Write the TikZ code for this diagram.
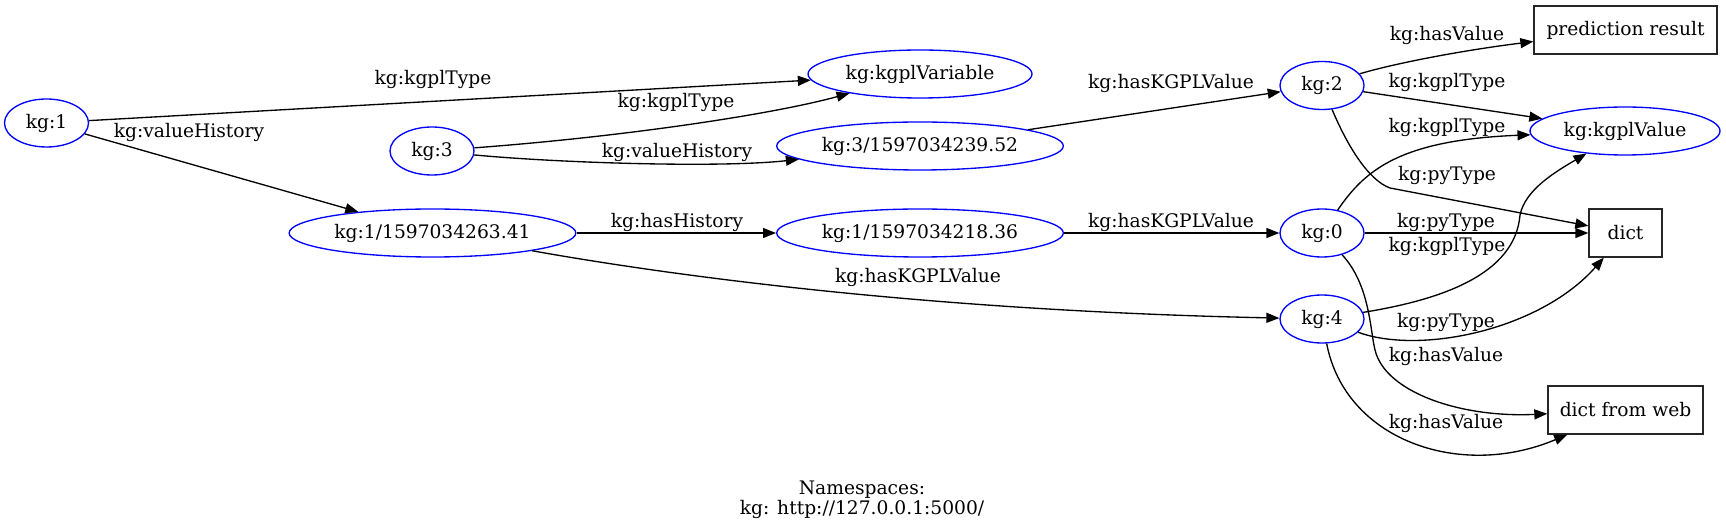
\documentclass[tikz,border=0pt]{standalone}
\usepackage{fontspec}
\setmainfont{DejaVu Serif}
\usetikzlibrary{shapes.geometric, arrows.meta, backgrounds}
\tikzset{uriNode/.style={shape=ellipse, draw=blue, line width=1pt, minimum height=36pt, inner sep=0pt, font=\fontsize{14pt}{16pt}\selectfont}}
\tikzset{literalNode/.style={shape=rectangle, draw=black!85, line width=1pt, minimum height=36pt, inner sep=0pt, font=\fontsize{14pt}{16pt}\selectfont}}
\tikzset{edgeLabel/.style={inner sep=0pt, font=\fontsize{14pt}{16pt}\selectfont}}
\tikzset{relation/.style={-{Triangle[length=9.75pt, width=7.5pt]}, line width=1pt}}

\begin{document}
\begin{tikzpicture}[
  x=0.75pt, y=-0.75pt,
  background rectangle/.style={fill=white}, show background rectangle]

\useasboundingbox (0,0) rectangle (1726,530);

% Variables and histories
\node[uriNode, minimum width=63pt] (k1) at (46.5,123) {kg:1};
\node[uriNode, minimum width=63pt] (k3) at (432,151) {kg:3};
\node[uriNode, minimum width=168pt] (var) at (920,74) {kg:kgplVariable};
\node[uriNode, minimum width=215pt] (h3) at (920,146) {kg:3/1597034239.52};
\node[uriNode, minimum width=215pt] (h1a) at (432.5,233) {kg:1/1597034263.41};
\node[uriNode, minimum width=215pt] (h1b) at (920,233) {kg:1/1597034218.36};

% Values
\node[uriNode, minimum width=63pt] (k2) at (1322,85.5) {kg:2};
\node[uriNode, minimum width=63pt] (k0) at (1322,233) {kg:0};
\node[uriNode, minimum width=63pt] (k4) at (1322,319) {kg:4};

% Types and literals
\node[literalNode, minimum width=137.25pt] (pred) at (1625.5,30) {prediction result};
\node[uriNode, minimum width=142.5pt] (val) at (1625,131) {kg:kgplValue};
\node[literalNode, minimum width=54.75pt] (dict) at (1625.5,233) {dict};
\node[literalNode, minimum width=116.25pt] (web) at (1625.5,410) {dict from web};

% Edges
\draw[relation] (k1) -- (var) node[edgeLabel] at (433,79) {kg:kgplType};
\draw[relation] (k1) -- (h1a) node[edgeLabel] at (189,132) {kg:valueHistory};
\draw[relation] (k3) .. controls (620,137) and (770,115) .. (var) node[edgeLabel] at (676,102) {kg:kgplType};
\draw[relation] (k3) .. controls (560,163) and (720,168) .. (h3) node[edgeLabel] at (677,152) {kg:valueHistory};
\draw[relation] (h1a) -- (h1b) node[edgeLabel] at (677,222) {kg:hasHistory};
\draw[relation] (h1a) .. controls (640,270) and (900,310) .. (k4) node[edgeLabel] at (918,277) {kg:hasKGPLValue};
\draw[relation] (h3) -- (k2) node[edgeLabel] at (1171,83) {kg:hasKGPLValue};
\draw[relation] (h1b) -- (k0) node[edgeLabel] at (1171,222) {kg:hasKGPLValue};

\draw[relation] (k2) .. controls (1385,66) and (1450,52) .. (pred) node[edgeLabel] at (1447,35) {kg:hasValue};
\draw[relation] (k2) -- (val) node[edgeLabel] at (1447,82) {kg:kgplType};
\draw[relation] (k0) .. controls (1365,170) and (1400,140) .. (val) node[edgeLabel] at (1447,127) {kg:kgplType};
\draw[relation] (k2) .. controls (1347,145) and (1368,180) .. (1390,188) -- (dict) node[edgeLabel] at (1447,175) {kg:pyType};
\draw[relation] (k0) -- (dict) node[edgeLabel] at (1446,222) {kg:pyType};
\draw[relation] (k4) .. controls (1440,300) and (1515,275) .. (1520,215) .. controls (1525,190) and (1555,172) .. (val) node[edgeLabel] at (1447,246) {kg:kgplType};
\draw[relation] (k4) .. controls (1420,355) and (1540,330) .. (dict) node[edgeLabel] at (1446,322) {kg:pyType};
\draw[relation] (k0) .. controls (1370,285) and (1370,330) .. (1375,350) .. controls (1385,392) and (1460,418) .. (web) node[edgeLabel] at (1446,356) {kg:hasValue};
\draw[relation] (k4) .. controls (1345,440) and (1460,480) .. (web) node[edgeLabel] at (1446,423) {kg:hasValue};

\node[align=center, inner sep=0pt, font=\fontsize{14pt}{15pt}\selectfont] (ns) at (862,500) {Namespaces:\\kg: http://127.0.0.1:5000/};

\end{tikzpicture}
\end{document}
